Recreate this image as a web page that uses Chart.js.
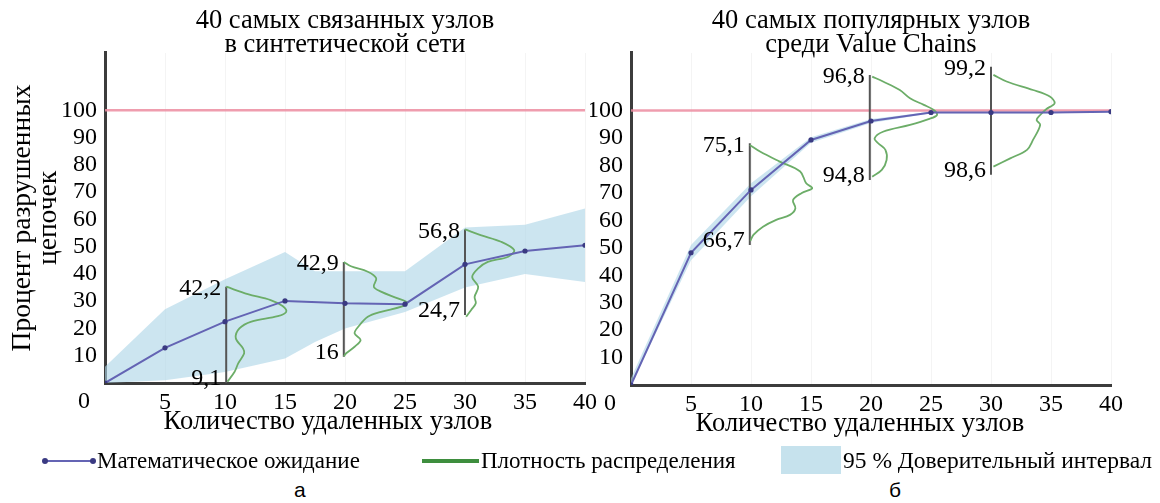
<!DOCTYPE html>
<html><head><meta charset="utf-8">
<script src="https://cdn.jsdelivr.net/npm/chart.js@4.4.1/dist/chart.umd.min.js"></script>
<style>
html,body{margin:0;padding:0;background:#fff;width:1160px;height:503px;overflow:hidden;}
#wrap{position:relative;width:1160px;height:503px;}
canvas{position:absolute;left:0;top:0;}
.lt{position:absolute;font-family:"Liberation Serif","Times New Roman",serif;font-size:23px;color:#000;white-space:nowrap;line-height:23px;}
.sub{position:absolute;font-family:"Liberation Sans",Arial,sans-serif;font-size:21px;color:#000;line-height:21px;}
</style></head>
<body><div id="wrap">
<canvas id="cA" width="1160" height="445"></canvas>
<canvas id="cB" width="1160" height="445"></canvas>
<div id="legend"></div>
<div class="sub" style="left:294px;top:479px;">а</div>
<div class="sub" style="left:889px;top:479px;">б</div>
</div>
<script>
// ---------- data ----------
const nodesRemoved = [0, 5, 10, 15, 20, 25, 30, 35, 40];
const xTickValues = [5, 10, 15, 20, 25, 30, 35, 40];
const yTickValues = [10, 20, 30, 40, 50, 60, 70, 80, 90, 100];

// (a) synthetic network
const synthTitle = ['40 самых связанных узлов', 'в синтетической сети'];
const synthMean = [0, 12.9, 22.5, 30.1, 29.2, 28.9, 43.5, 48.4, 50.5];
const synthBandX = [0, 5, 10, 15, 17.5, 20, 25, 30, 35, 40];
const synthBandHigh = [6, 27, 38, 48, 41, 41, 41, 57, 58, 64];
const synthBandLow = [0, 1, 4, 9, 15, 20, 26, 35, 40, 37];
const synthDensX = [10.1, 19.9, 30.0];
const synthDensTop = [35.3, 44.4, 56.3];
const synthDensBottom = [0, 9.6, 24.9];
const synthDensTopLabel = ['42,2', '42,9', '56,8'];
const synthDensBottomLabel = ['9,1', '16', '24,7'];
const synthDensity1 = [[10.1,35.3],[11.9,32.6],[13.8,30.4],[14.8,28.2],[15.1,26.1],[14.4,24.5],[12.2,22.5],[11.2,20.0],[10.9,16.4],[11.5,12.7],[11.6,10.9],[11.1,7.2],[10.8,4.1],[10.2,0.5]];
const synthDensity2 = [[19.9,44.4],[20.5,42.8],[21.9,40.8],[22.6,38.4],[22.4,35.3],[23.0,33.5],[24.4,31.0],[25.2,29.4],[24.7,28.0],[23.0,26.1],[21.9,24.3],[21.1,20.6],[20.8,18.2],[21.3,15.8],[20.8,13.3],[20.1,10.9],[19.9,9.8]];
const synthDensity3 = [[30.0,56.3],[31.3,54.2],[33.0,51.8],[34.1,48.7],[33.6,46.3],[31.9,44.4],[31.1,42.0],[30.6,38.9],[31.1,35.3],[30.8,31.6],[30.9,29.2],[30.5,26.7],[30.1,24.3]];

// (b) Value Chains
const vcTitle = ['40 самых популярных узлов', 'среди Value Chains'];
const vcMean = [0, 48.2, 71.1, 89.3, 96.2, 99.3, 99.3, 99.3, 99.6];
const vcBandHigh = [2.5, 51, 73.5, 90.3, 96.9, 99.6, 99.6, 99.6, 99.8];
const vcBandLow = [0, 45.5, 68.8, 88.3, 95.5, 99.0, 99.0, 99.0, 99.4];
const vcDensX = [9.9, 19.9, 30.0];
const vcDensTop = [88.1, 113.0, 116.0];
const vcDensBottom = [51.0, 74.7, 76.6];
const vcDensTopLabel = ['75,1', '96,8', '99,2'];
const vcDensBottomLabel = ['66,7', '94,8', '98,6'];
const vcDensity1 = [[9.9,87.5],[10.75,85.1],[12.4,81.4],[14.1,77.8],[14.6,73.5],[15.1,71.7],[14.2,69.9],[13.5,67.4],[13.7,64.4],[13.25,62.0],[12.1,60.2],[11.0,57.7],[10.2,54.7],[9.95,52.5]];
const vcDensity2 = [[20.1,112.4],[21.0,110.6],[22.4,107.5],[23.25,104.5],[24.4,102.1],[25.2,100.3],[25.5,98.4],[24.8,96.9],[23.25,94.8],[21.0,92.3],[20.3,89.9],[20.6,88.1],[21.2,85.7],[21.3,82.0],[20.9,78.4],[20.1,75.9]];
const vcDensity3 = [[30.2,113.0],[31.3,110.6],[33.5,107.5],[34.9,105.1],[35.3,102.7],[34.6,100.5],[34.1,98.4],[33.8,96.6],[34.1,94.8],[33.5,89.3],[33.0,85.7],[31.6,82.6],[30.2,79.6]];

const referenceLevel = 100;
const legendLabels = ['Математическое ожидание', 'Плотность распределения', '95 % Доверительный интервал'];
const xTitle = 'Количество удаленных узлов';
const yTitle = ['Процент разрушенных', 'цепочек'];

// ---------- styles ----------
const SERIF = '"Liberation Serif", "Times New Roman", serif';
Chart.defaults.font.family = SERIF;
Chart.defaults.color = '#000';
const C_BAND = 'rgba(173,213,230,0.62)';
const C_MEAN = '#6464b4';
const C_PT = '#3a3a82';
const C_RED = 'rgba(236,140,160,0.85)';
const C_VERT = '#555555';
const C_GREEN = '#6cad68';
const Y_MAX = 121;

const pts = (xs, ys) => xs.map((x, i) => ({x, y: ys[i]}));
const pairs = arr => arr.map(p => ({x: p[0], y: p[1]}));

function annotPlugin(o) {
  return {
    id: 'annot',
    afterDatasetsDraw(chart) {
      const {ctx, scales: {x, y}, chartArea} = chart;
      ctx.save();
      ctx.font = '24px ' + SERIF;
      ctx.fillStyle = '#000';
      ctx.textAlign = 'right';
      ctx.textBaseline = 'middle';
      o.dx.forEach((v, i) => {
        const px = x.getPixelForValue(v) - 5;
        ctx.fillText(o.lTop[i], px, y.getPixelForValue(o.dTop[i]) + 2);
        ctx.fillText(o.lBot[i], px, y.getPixelForValue(o.dBot[i]) - 4);
      });
      ctx.textAlign = 'center';
      ctx.fillText('0', x.left - 21, y.bottom + 19);
      // x-axis title (slightly left of the plot centre, as in the original)
      ctx.font = '26.5px ' + SERIF;
      ctx.fillText(xTitle, (chartArea.left + chartArea.right) / 2 + o.xTitleShift, y.bottom + 39);
      ctx.restore();
    }
  };
}

function build(id, o) {
  const densSets = o.dens.map(d => ({
    data: pairs(d), borderColor: C_GREEN, borderWidth: 1.8, pointRadius: 0,
    tension: 0.35, fill: false, order: 1
  }));
  const vertSets = o.dx.map((v, i) => ({
    data: [{x: v, y: o.dTop[i]}, {x: v, y: o.dBot[i]}], borderColor: C_VERT,
    borderWidth: 2, pointRadius: 0, fill: false, order: 2
  }));
  const cfg = {
    type: 'line',
    data: {
      datasets: [
        {data: pts(o.bandX, o.bandHigh), borderWidth: 0, borderColor: 'rgba(0,0,0,0)', pointRadius: 0,
         backgroundColor: C_BAND, fill: '+1', order: 10, tension: 0},
        {data: pts(o.bandX, o.bandLow), borderWidth: 0, borderColor: 'rgba(0,0,0,0)', pointRadius: 0,
         fill: false, order: 11},
        {data: [{x: 0, y: referenceLevel}, {x: 40, y: referenceLevel}], borderColor: C_RED, borderWidth: 2.5,
         pointRadius: 0, fill: false, order: 6},
        ...vertSets,
        ...densSets,
        {data: pts(nodesRemoved, o.mean), borderColor: C_MEAN, borderWidth: 2, pointRadius: 2.6,
         pointBackgroundColor: C_PT, pointBorderWidth: 0, fill: false, order: 0}
      ]
    },
    options: {
      responsive: false, animation: false, events: [],
      layout: {padding: o.pad},
      plugins: {
        legend: {display: false}, tooltip: {enabled: false},
        title: {display: true, text: o.title, fullSize: false,
                font: {size: 26.5, weight: 'normal', lineHeight: 0.905},
                color: '#000', padding: {top: 9, bottom: -4}}
      },
      scales: {
        x: {
          type: 'linear', min: 0, max: 40,
          afterBuildTicks: s => { s.ticks = xTickValues.map(v => ({value: v})); },
          ticks: {font: {size: 24}, color: '#000', padding: 5, maxRotation: 0, autoSkip: false},
          grid: {display: true, color: 'rgba(0,0,0,0.045)', drawTicks: false},
          border: {display: true, color: '#3c3c3c', width: 3},
          title: {display: false},
          afterFit: s => { s.height = 445 - o.axisY; }
        },
        y: {
          type: 'linear', min: 0, max: Y_MAX,
          afterBuildTicks: s => { s.ticks = yTickValues.map(v => ({value: v})); },
          ticks: {font: {size: 24}, color: '#000', padding: o.yPad},
          grid: {display: false, drawTicks: false},
          border: {display: true, color: '#3c3c3c', width: 3},
          title: {display: !!o.yTitle, text: o.yTitle || '', font: {size: 27.5, lineHeight: 0.95}, color: '#000',
                  padding: {top: 10, bottom: 0}},
          afterFit: s => { s.width = o.yW; }
        }
      }
    },
    plugins: [annotPlugin(o)]
  };
  return new Chart(document.getElementById(id), cfg);
}

build('cA', {
  title: synthTitle, mean: synthMean, bandX: synthBandX, bandHigh: synthBandHigh, bandLow: synthBandLow,
  dx: synthDensX, dTop: synthDensTop, dBot: synthDensBottom, lTop: synthDensTopLabel, lBot: synthDensBottomLabel,
  dens: [synthDensity1, synthDensity2, synthDensity3], xTitleShift: -17,
  pad: {left: 0, right: 575, top: 0, bottom: 0}, yW: 105, yPad: 8, axisY: 383, yTitle: yTitle
});
build('cB', {
  title: vcTitle, mean: vcMean, bandX: nodesRemoved, bandHigh: vcBandHigh, bandLow: vcBandLow,
  dx: vcDensX, dTop: vcDensTop, dBot: vcDensBottom, lTop: vcDensTopLabel, lBot: vcDensBottomLabel,
  dens: [vcDensity1, vcDensity2, vcDensity3], xTitleShift: -11,
  pad: {left: 590, right: 49, top: 0, bottom: 0}, yW: 41, yPad: 8, axisY: 385, yTitle: null
});

// ---------- legend ----------
const lg = document.getElementById('legend');
lg.innerHTML =
  '<div style="position:absolute;left:44px;top:460px;width:50px;height:2px;background:' + C_MEAN + ';"></div>' +
  '<div style="position:absolute;left:42px;top:458px;width:6px;height:6px;border-radius:3px;background:' + C_PT + ';"></div>' +
  '<div style="position:absolute;left:90px;top:458px;width:6px;height:6px;border-radius:3px;background:' + C_PT + ';"></div>' +
  '<div class="lt" style="left:97px;top:449px;">' + legendLabels[0] + '</div>' +
  '<div style="position:absolute;left:422px;top:459px;width:57px;height:4px;background:#3e8e3e;"></div>' +
  '<div class="lt" style="left:481px;top:449px;">' + legendLabels[1] + '</div>' +
  '<div style="position:absolute;left:781px;top:446px;width:60px;height:28px;background:#c6e2ed;"></div>' +
  '<div class="lt" style="left:843px;top:449px;font-size:23.5px;">' + legendLabels[2] + '</div>';
</script>
</body></html>
